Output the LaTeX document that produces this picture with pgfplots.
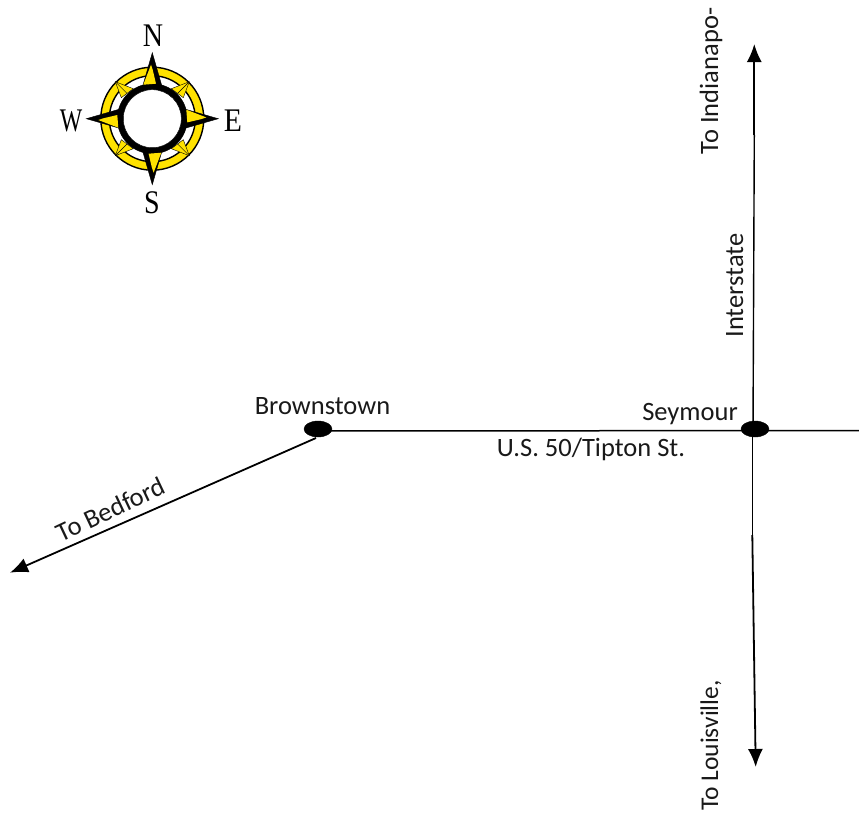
\documentclass[border=0pt]{standalone}
\usepackage{fontspec}
\setmainfont{Carlito}
\newfontfamily\compassfont{Liberation Serif}
\usepackage{pgfplots}
\pgfplotsset{compat=1.18}
\usetikzlibrary{arrows.meta}
\definecolor{compassyellow}{RGB}{255,226,0}
\tikzset{
    lbl/.style={font=\fontsize{26.5}{28}\selectfont, inner sep=0pt, anchor=base, text=black!90},
    cmp/.style={font=\compassfont\fontsize{33}{33}\selectfont, inner sep=0pt},
    road/.style={black, line width=1.8pt},
    roadarrow/.style={road, -{Latex[length=18pt,width=15pt]}},
}
\begin{document}
\begin{tikzpicture}
\begin{axis}[
    scale only axis,
    width=859pt, height=812pt,
    xmin=0, xmax=859,
    ymin=0, ymax=812,
    y dir=reverse,
    hide axis,
    clip=false,
    clip marker paths=true,
]
% roads
\addplot[black, line width=1.5pt] coordinates {(318,431) (859,430.5)};
\addplot[black, line width=1.4pt] coordinates {(753,430) (754.3,135)};
\addplot[roadarrow] coordinates {(754.3,135) (754.3,44)};
\addplot[black, line width=1.5pt] coordinates {(752.3,430) (752.3,535)};
\addplot[roadarrow] coordinates {(752.3,535) (755.7,767)};
\addplot[roadarrow] coordinates {(316,438) (10,572.7)};
% towns
\addplot[only marks, mark=*, mark size=8pt, black, mark options={xscale=1.75}] coordinates {(318,429) (755,429)};
% compass ring
\addplot[only marks, mark=*, mark size=51.5pt, mark options={draw=black, line width=1.4pt, fill=compassyellow}] coordinates {(152.3,118.7)};
\addplot[only marks, mark=*, mark size=43pt, mark options={draw=black, line width=1.4pt, fill=white}] coordinates {(152.3,118.7)};
% small diagonal points
\addplot[fill=compassyellow, draw=black, line width=.4pt] coordinates {(115.3,81.7) (121.3,97.7) (133.3,88.7)} -- cycle;
\addplot[fill=compassyellow, draw=black, line width=.4pt] coordinates {(189.3,81.7) (183.3,97.7) (171.3,88.7)} -- cycle;
\addplot[fill=compassyellow, draw=black, line width=.4pt] coordinates {(189.3,155.7) (183.3,139.7) (171.3,148.7)} -- cycle;
\addplot[fill=compassyellow, draw=black, line width=.4pt] coordinates {(115.3,155.7) (121.3,139.7) (133.3,148.7)} -- cycle;
\addplot[black, line width=.4pt] coordinates {(115.3,81.7) (127,93.4)};
\addplot[black, line width=.4pt] coordinates {(189.3,81.7) (177.6,93.4)};
\addplot[black, line width=.4pt] coordinates {(189.3,155.7) (177.6,144)};
\addplot[black, line width=.4pt] coordinates {(115.3,155.7) (127,144)};
% hub
\addplot[only marks, mark=*, mark size=35pt, black] coordinates {(152.3,118.7)};
% main points, black
\addplot[fill=black, draw=black] coordinates {(152.3,52.7) (142.8,85.7) (161.8,85.7)} -- cycle;
\addplot[fill=black, draw=black] coordinates {(218.3,118.7) (185.3,109.2) (185.3,128.2)} -- cycle;
\addplot[fill=black, draw=black] coordinates {(152.3,184.7) (161.8,151.7) (142.8,151.7)} -- cycle;
\addplot[fill=black, draw=black] coordinates {(86.3,118.7) (119.3,128.2) (119.3,109.2)} -- cycle;
% main points, yellow half
\addplot[fill=compassyellow, draw=none] coordinates {(151,64.7) (143.3,84.7) (156,83.7) (152.7,69.7)} -- cycle;
\addplot[fill=compassyellow, draw=none] coordinates {(206.3,117.4) (186.3,109.7) (187.3,122.4) (201.3,119.1)} -- cycle;
\addplot[fill=compassyellow, draw=none] coordinates {(153.6,172.7) (161.3,152.7) (148.6,153.7) (151.9,167.7)} -- cycle;
\addplot[fill=compassyellow, draw=none] coordinates {(98.3,120) (118.3,127.7) (117.3,115) (103.3,118.3)} -- cycle;
% hub centre
\addplot[only marks, mark=*, mark size=29pt, mark options={draw=none, fill=white}] coordinates {(152.3,118.7)};
% compass letters
\node[cmp, xscale=.85] at (axis cs:153,36) {N};
\node[cmp, xscale=.9] at (axis cs:233,121) {E};
\node[cmp, xscale=.72] at (axis cs:71,121) {W};
\node[cmp, xscale=.85] at (axis cs:152,203) {S};
% labels
\node[lbl] at (axis cs:322.5,414) {Brownstown};
\node[lbl] at (axis cs:690,420) {Seymour};
\node[lbl] at (axis cs:591,456) {U.S. 50/Tipton St.};
\node[lbl, rotate=25.3] at (axis cs:114.5,517.5) {To Bedford};
\node[lbl, rotate=90] at (axis cs:718,81) {To Indianapo-};
\node[lbl, rotate=90] at (axis cs:743,285.5) {Interstate};
\node[lbl, rotate=90, font=\fontsize{25.5}{27}\selectfont] at (axis cs:718,745.5) {To Louisville,};
\end{axis}
\pgfresetboundingbox
\path[use as bounding box] (current axis.south west) rectangle (current axis.north east);
\end{tikzpicture}
\end{document}
